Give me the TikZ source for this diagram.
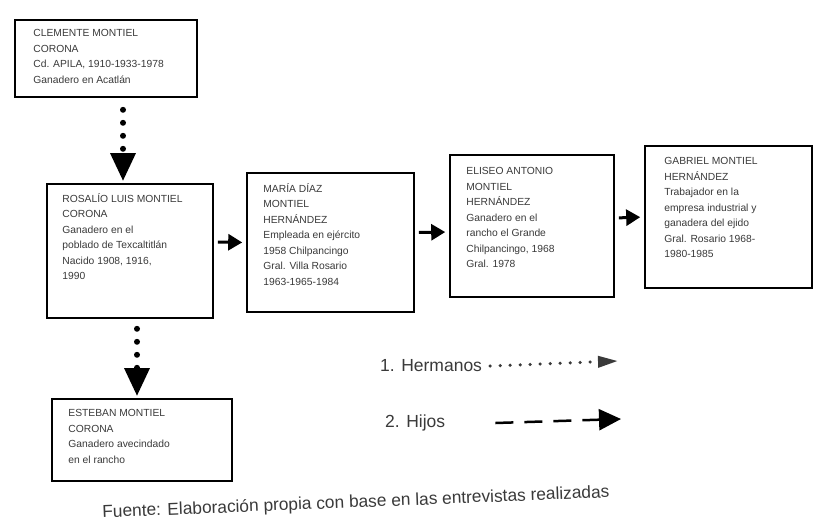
\documentclass[tikz,border=0pt]{standalone}
\usepackage{fontspec}
\setmainfont{Liberation Sans}
\usetikzlibrary{arrows.meta,calc}
\definecolor{ink}{HTML}{3A3A3A}
\tikzset{
  famb/.style={draw=black, line width=1.6pt, fill=white, inner sep=0pt},
  famt/.style={anchor=north west, inner sep=0pt, align=left, text=ink,
    font=\fontsize{10.3}{15.5}\selectfont},
  hermano/.style={line width=6pt, line cap=round, dash pattern=on 0pt off 13pt,
    -{Triangle[length=28pt,width=24pt]}},
  hijoarr/.style={line width=3pt, -{Triangle[length=14pt,width=16pt]},
    shorten <=4pt, shorten >=4pt},
  legt/.style={anchor=west, inner sep=0pt, text=ink, font=\fontsize{17.5}{20}\selectfont},
}
\begin{document}
\begin{tikzpicture}[x=1pt,y=-1pt]
\useasboundingbox[fill=white] (0,0) rectangle (817,528);

% boxes
\node[famb, minimum width=182pt, minimum height=77pt] (b1) at (106,58.5) {};
\node[famb, minimum width=166pt, minimum height=134pt] (b2) at (130,251) {};
\node[famb, minimum width=167pt, minimum height=139pt] (b3) at (330.5,242.5) {};
\node[famb, minimum width=164pt, minimum height=142pt] (b4) at (532,226) {};
\node[famb, minimum width=167pt, minimum height=142pt] (b5) at (728.5,217) {};
\node[famb, minimum width=180pt, minimum height=82pt] (b6) at (142,440) {};

% texts
\node[famt] (t1) at ($(b1.north west)+(19,10)$)
  {CLEMENTE MONTIEL\\CORONA\\Cd. APILA, 1910-1933-1978\\Ganadero en Acatlán};
\node[famt] (t2) at ($(b2.north west)+(16,10)$)
  {ROSALÍO LUIS MONTIEL\\CORONA\\Ganadero en el\\poblado de Texcaltitlán\\Nacido 1908, 1916,\\1990};
\node[famt] (t3) at ($(b3.north west)+(17,11)$)
  {MARÍA DÍAZ\\MONTIEL\\HERNÁNDEZ\\Empleada en ejército\\1958 Chilpancingo\\Gral. Villa Rosario\\1963-1965-1984};
\node[famt] (t4) at ($(b4.north west)+(17,13)$)
  {ELISEO ANTONIO\\MONTIEL\\HERNÁNDEZ\\Ganadero en el\\rancho el Grande\\Chilpancingo, 1968\\Gral. 1978};
\node[famt] (t5) at ($(b5.north west)+(20,12)$)
  {GABRIEL MONTIEL\\HERNÁNDEZ\\Trabajador en la\\empresa industrial y\\ganadera del ejido\\Gral. Rosario 1968-\\1980-1985};
\node[famt] (t6) at ($(b6.north west)+(17,11)$)
  {ESTEBAN MONTIEL\\CORONA\\Ganadero avecindado\\en el rancho};

% connectors
\draw[hermano] ([xshift=17pt]b1.south) ++(0,12) -- ([xshift=-7pt,yshift=2pt]b2.north);
\draw[hermano] ([xshift=7pt]b2.south) ++(0,10) -- ([xshift=-5pt,yshift=2pt]b6.north);
\draw[hijoarr] ([yshift=9pt]b2.east) -- (b3.west);
\draw[hijoarr] ([yshift=10pt]b3.east) -- ([yshift=-6pt]b4.west);
\draw[hijoarr] ([yshift=8pt]b4.east) -- (b5.west);

% legend
\node[legt] (l1) at (380,366) {1. Hermanos};
\node[legt] (l2) at (385,423) {2. Hijos};
\coordinate (l1e) at (618,361);
\coordinate (l2e) at (621,419);
\draw[ink, line width=3.5pt, line cap=round, dash pattern=on 0pt off 10pt,
  -{Triangle[length=20pt,width=11pt]}] ([xshift=8pt]l1.east) -- (l1e);
\draw[black, line width=2.5pt, dash pattern=on 18pt off 11pt,
  -{Triangle[length=22pt,width=21pt]}] ([xshift=50pt]l2.east) -- (l2e);

% caption
\node[text=ink, font=\fontsize{17.3}{19}\selectfont, rotate=2.3, inner sep=0pt] (cap)
  at (356,503) {Fuente: Elaboración propia con base en las entrevistas realizadas};
\end{tikzpicture}
\end{document}
